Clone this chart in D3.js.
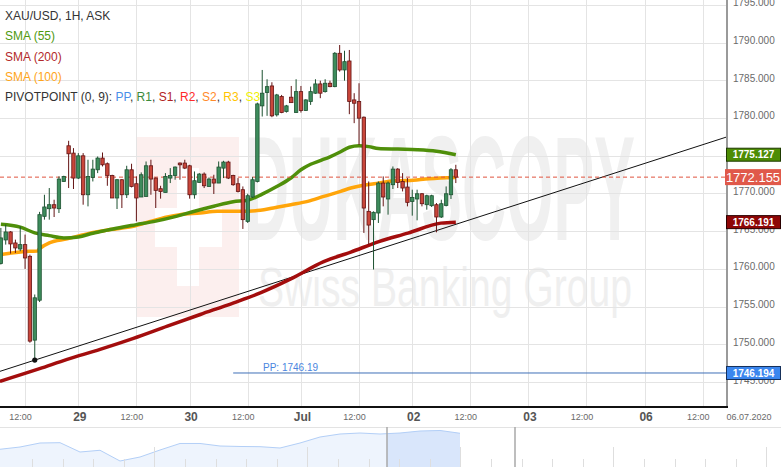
<!DOCTYPE html>
<html><head><meta charset="utf-8">
<script src="https://cdn.jsdelivr.net/npm/d3@7"></script>
<style>body{margin:0;background:#fff;}svg{display:block;font-family:"Liberation Sans",Arial,sans-serif;}</style>
</head><body><svg id="c" width="781" height="467"></svg>
<script>
// ---------- DATA ----------
const firstSlot = -16; // hourly slots, 0 = 29 Jun 00:00
const opens  = [1760.70,1763.83,1764.89,1763.43,1762.63,1763.21,1761.66,1750.55,1755.84,1766.96,1767.97,1768.50,1767.97,1771.58,1776.31,1775.34,1772.03,1774.98,1769.82,1772.11,1773.13,1774.68,1773.93,1772.38,1769.39,1771.81,1769.82,1773.13,1771.28,1769.52,1769.60,1773.66,1772.03,1770.62,1770.13,1772.03,1772.38,1774.02,1774.02,1773.66,1769.82,1771.45,1772.56,1770.92,1771.90,1771.37,1773.35,1774.15,1772.38,1771.28,1770.49,1766.29,1769.52,1771.58,1781.60,1783.36,1784.24,1780.41,1782.83,1780.85,1782.75,1780.71,1783.49,1780.98,1782.17,1783.28,1784.51,1783.49,1784.60,1784.15,1788.57,1786.36,1787.55,1782.39,1782.17,1780.10,1767.62,1766.52,1767.40,1771.37,1769.26,1771.15,1773.22,1771.58,1770.84,1768.94,1769.26,1769.95,1768.50,1768.37,1768.50,1766.87,1768.41,1769.82,1773.13];
const highs  = [1765.42,1765.86,1765.00,1763.87,1765.63,1764.54,1761.88,1756.60,1767.55,1769.82,1770.71,1769.16,1772.25,1772.34,1776.97,1776.00,1775.34,1775.34,1774.46,1774.46,1774.89,1775.42,1774.10,1772.47,1771.90,1771.90,1773.66,1773.93,1772.25,1772.78,1774.23,1774.46,1772.11,1771.01,1772.69,1773.35,1773.57,1774.10,1774.46,1773.79,1772.91,1772.69,1772.78,1772.11,1772.47,1774.23,1774.32,1774.32,1772.47,1772.03,1770.92,1769.95,1772.16,1782.03,1786.36,1785.13,1784.73,1783.19,1783.05,1781.73,1784.24,1785.13,1784.24,1782.48,1784.15,1785.13,1784.94,1785.13,1784.94,1788.74,1789.67,1788.91,1789.01,1783.28,1784.60,1780.19,1771.58,1767.62,1771.58,1772.25,1771.58,1773.57,1773.35,1772.69,1772.03,1770.49,1770.49,1770.05,1769.82,1769.82,1768.72,1769.16,1770.92,1773.35,1773.79];
const lows   = [1760.57,1763.21,1762.02,1762.11,1762.33,1759.99,1750.21,1747.90,1755.60,1766.52,1766.52,1766.87,1767.40,1771.55,1770.71,1770.58,1771.90,1768.50,1768.28,1771.58,1772.69,1773.57,1771.01,1769.39,1767.93,1768.06,1769.39,1770.79,1766.29,1769.52,1769.60,1769.82,1768.06,1769.30,1770.13,1771.37,1771.81,1771.81,1773.22,1769.30,1769.30,1771.45,1770.71,1770.92,1769.92,1771.37,1772.03,1771.90,1771.01,1770.13,1765.29,1766.08,1769.39,1771.45,1780.19,1780.28,1780.10,1780.19,1780.63,1780.71,1782.03,1780.71,1780.71,1780.98,1781.73,1783.19,1782.62,1783.36,1784.07,1784.07,1786.14,1784.94,1780.50,1779.31,1776.44,1764.76,1763.21,1759.91,1766.08,1768.28,1767.18,1770.58,1770.71,1770.26,1768.28,1767.05,1766.43,1768.28,1767.84,1768.20,1764.84,1766.74,1768.28,1769.26,1771.37];
const closes = [1764.10,1764.89,1763.30,1762.77,1763.21,1761.44,1750.42,1756.16,1767.18,1768.20,1768.50,1768.06,1771.90,1772.25,1775.25,1772.03,1774.98,1769.82,1772.25,1773.22,1774.68,1773.79,1772.34,1769.39,1771.81,1769.82,1773.13,1770.92,1769.39,1772.47,1773.66,1771.90,1770.40,1770.26,1772.25,1772.38,1773.49,1773.79,1773.35,1769.82,1771.68,1772.56,1771.01,1771.90,1771.37,1773.49,1774.15,1772.03,1771.15,1770.26,1766.52,1769.69,1771.81,1781.86,1783.28,1784.15,1780.28,1783.05,1780.71,1781.60,1782.03,1783.49,1780.98,1782.39,1783.49,1784.51,1783.28,1784.60,1784.15,1788.57,1786.36,1787.46,1782.17,1781.95,1779.97,1768.06,1765.80,1767.49,1771.37,1769.52,1771.37,1773.22,1771.45,1770.71,1768.81,1769.47,1769.95,1768.63,1769.69,1769.69,1766.87,1768.63,1769.95,1773.13,1772.155];

const sma55Slots  = [-16,-12,-9,-6,-3,0,3,6,9,12,16,20,24,28,32,35,38,41,44,46,48,50,52,54,56,58,60,62,66,70,74,78];
const sma55Values = [1765.92,1765.53,1764.76,1764.40,1764.10,1764.23,1764.72,1765.13,1765.52,1765.86,1766.32,1766.92,1767.64,1768.30,1768.90,1769.10,1769.90,1770.90,1772.07,1773.13,1773.86,1774.35,1774.85,1775.45,1776.11,1776.30,1776.20,1775.95,1775.87,1775.80,1775.60,1775.127];
const sma100Slots  = [-16,-10,-8.5,-8,-6,-2.3,1.8,6.6,11.4,14.9,18.4,21,25.2,28.7,33.5,37.6,40.3,43.9,47.4,50.7,54.2,56.3,58.4,61.1,65.6,68.1,72.5,78];
const sma100Values = [1761.89,1762.33,1762.35,1762.68,1763.44,1763.97,1764.63,1765.20,1765.63,1766.29,1766.88,1767.18,1767.40,1767.62,1767.62,1767.75,1768.07,1768.50,1768.94,1769.60,1770.26,1770.71,1771.01,1771.28,1771.68,1771.70,1771.94,1772.10];
const sma200Slots  = [-16.2,-8,-2.3,4.5,11.4,18.4,25.2,32.1,37.6,43.9,50.7,56.3,62.1,68.1,74.9,78];
const sma200Values = [1745.09,1746.77,1748.00,1749.32,1750.78,1752.40,1753.95,1755.50,1756.82,1758.67,1760.96,1762.22,1763.61,1764.73,1766.06,1766.191];

const trendSlots  = [-9, 78];
const trendPrices = [1747.90, 1765.90];

const pivotPP = 1746.194;
const pivotStartSlot = 32;
const lastPrice = 1772.155;

const yTicks = [1745,1750,1755,1760,1765,1770,1775,1780,1785,1790,1795];
const xTickSlots  = [-11,0,12,23,35,46,58,69,81,93,105,117,129];
const xTickLabels = ["12:00","29","12:00","30","12:00","Jul","12:00","02","12:00","03","12:00","06","12:00"];

const navValues = [1734.3,1740,1750,1750.8,1727.5,1731.8,1705,1715,1732.5,1748.8,1748.8,1742.5,1741.3,1740.8,1737.5,1750,1765,1772.5,1775,1772.5,1775,1780,1781.3,1774.3];
const navWindow = [19.35, 25.75];

// ---------- LAYOUT ----------
const W = 781, H = 467, plotR = 727, plotB = 407;
const svg = d3.select("#c");
const x = d3.scaleLinear().domain([-16.18, 134.03]).range([0, plotR]);
const y = d3.scaleLinear().domain([1745, 1790]).range([382, 42.5]);

svg.append("rect").attr("width", W).attr("height", H).attr("fill", "#fff");
svg.append("defs").append("clipPath").attr("id","pc").append("rect").attr("width",plotR).attr("height",plotB);

// watermark
const wm = svg.append("g");
wm.append("rect").attr("x",137).attr("y",137).attr("width",102).attr("height",180).attr("fill","#fcefee");
wm.append("rect").attr("x",155).attr("y",208).attr("width",67).attr("height",39).attr("fill","#fff");
wm.append("rect").attr("x",177).attr("y",168).attr("width",22).attr("height",118).attr("fill","#fff");
wm.append("text").attr("x",245).attr("y",240).attr("font-size",148).attr("font-weight","bold")
  .attr("textLength",390).attr("lengthAdjust","spacingAndGlyphs").attr("fill","#f0f0f0").text("DUKASCOPY");
wm.append("text").attr("x",258).attr("y",306).attr("font-size",56)
  .attr("textLength",374).attr("lengthAdjust","spacingAndGlyphs").attr("fill","#efefef").text("Swiss Banking Group");

// grid
const grid = svg.append("g").attr("stroke","#e4e4e4").attr("stroke-width",1);
grid.selectAll("line.h").data(yTicks).join("line")
  .attr("x1",0).attr("x2",plotR).attr("y1",d=>Math.round(y(d))+0.5).attr("y2",d=>Math.round(y(d))+0.5);
grid.selectAll("line.v").data(xTickSlots).join("line")
  .attr("y1",0).attr("y2",plotB).attr("x1",d=>Math.round(x(d))+0.5).attr("x2",d=>Math.round(x(d))+0.5);

const plot = svg.append("g").attr("clip-path","url(#pc)");

// trendline
const tSlope = (trendPrices[1]-trendPrices[0])/(trendSlots[1]-trendSlots[0]);
const tAt = s => trendPrices[0] + (s-trendSlots[0])*tSlope;
const xd = x.domain();
plot.append("line").attr("x1",x(xd[0])).attr("y1",y(tAt(xd[0]))).attr("x2",x(xd[1])).attr("y2",y(tAt(xd[1])))
  .attr("stroke","#111").attr("stroke-width",1);

// SMAs
const ln = d3.line().x(d=>x(d[0])).y(d=>y(d[1])).curve(d3.curveMonotoneX);
function sma(slots, vals, color){
  plot.append("path").attr("d", ln(slots.map((s,i)=>[s,vals[i]]))).attr("fill","none")
    .attr("stroke",color).attr("stroke-width",3.5).attr("stroke-linejoin","round");
}
sma(sma200Slots, sma200Values, "#a30d0d");
sma(sma100Slots, sma100Values, "#ffa50a");
sma(sma55Slots, sma55Values, "#4f8f0a");

// pivot line
plot.append("line").attr("x1",x(pivotStartSlot)).attr("x2",plotR).attr("y1",y(pivotPP)).attr("y2",y(pivotPP))
  .attr("stroke","#3f6fb8").attr("stroke-width",1);
svg.append("text").attr("x",263).attr("y",y(pivotPP)-2).attr("font-size",10).attr("fill","#4a86e0").text("PP: "+pivotPP.toFixed(2));

// last price line
plot.append("line").attr("x1",0).attr("x2",plotR).attr("y1",y(lastPrice)).attr("y2",y(lastPrice))
  .attr("stroke","#e0533f").attr("stroke-width",1).attr("stroke-dasharray","4,3");

// candles
const candles = opens.map((o,i)=>({s:firstSlot+i,o,h:highs[i],l:lows[i],c:closes[i]}));
const cg = plot.append("g");
cg.selectAll("line").data(candles).join("line")
  .attr("x1",d=>x(d.s)).attr("x2",d=>x(d.s)).attr("y1",d=>y(d.h)).attr("y2",d=>y(d.l))
  .attr("stroke",d=>d.c>=d.o?"#1d5231":"#641414").attr("stroke-width",1);
cg.selectAll("rect").data(candles).join("rect")
  .attr("x",d=>x(d.s)-1.7).attr("width",3.4)
  .attr("y",d=>y(Math.max(d.o,d.c))).attr("height",d=>Math.max(1,Math.abs(y(d.o)-y(d.c))))
  .attr("fill",d=>d.c>=d.o?"#3d8c5c":"#c9463a").attr("stroke",d=>d.c>=d.o?"#1d5231":"#641414").attr("stroke-width",0.8);

// trend touch dot
svg.append("circle").attr("cx",x(trendSlots[0])).attr("cy",y(trendPrices[0])).attr("r",2.6).attr("fill","#111");

// axes
svg.append("line").attr("x1",plotR).attr("x2",plotR).attr("y1",0).attr("y2",plotB).attr("stroke","#9a9a9a").attr("stroke-width",2);
svg.append("line").attr("x1",0).attr("x2",plotR+1).attr("y1",plotB).attr("y2",plotB).attr("stroke","#111").attr("stroke-width",2);

svg.append("g").selectAll("text").data(yTicks).join("text")
  .attr("x",733).attr("y",d=>y(d)+1.5).attr("font-size",10).attr("fill","#6a6a6a").text(d=>d.toFixed(3));

svg.append("g").selectAll("text").data(xTickSlots).join("text")
  .attr("x",(d,i)=>x(d)+(xTickLabels[i]==="12:00"?-4.5:1.5)).attr("y",(d,i)=>xTickLabels[i]==="12:00"?419.5:420.5)
  .attr("text-anchor","middle")
  .attr("font-size",(d,i)=>xTickLabels[i]==="12:00"?9:12)
  .attr("font-weight",(d,i)=>xTickLabels[i]==="12:00"?"normal":"bold")
  .attr("fill",(d,i)=>xTickLabels[i]==="12:00"?"#6a6a6a":"#555")
  .text((d,i)=>xTickLabels[i]);
svg.append("text").attr("x",749).attr("y",419.5).attr("text-anchor","middle").attr("font-size",9).attr("fill","#6a6a6a").text("06.07.2020");

// navigator
const navX = d3.scaleLinear().domain([0, navValues.length-1]).range([0, 460]);
const navY = d3.scaleLinear().domain([1690, 1790]).range([467, 427]);
const nav = svg.append("g");
nav.append("line").attr("x1",0).attr("x2",W).attr("y1",427.5).attr("y2",427.5).attr("stroke","#e3e3e3");
const navArea = d3.area().x((d,i)=>navX(i)).y0(467).y1(d=>navY(d));
const navLine = d3.line().x((d,i)=>navX(i)).y(d=>navY(d));
nav.append("path").attr("d",navArea(navValues)).attr("fill","#eef4fd");
svg.select("defs").append("clipPath").attr("id","nw").append("rect")
  .attr("x",navX(navWindow[0])).attr("y",427).attr("width",navX(navWindow[1])-navX(navWindow[0])).attr("height",40);
nav.append("path").attr("d",navArea(navValues)).attr("fill","#d9e6fb").attr("clip-path","url(#nw)");
nav.append("path").attr("d",navLine(navValues)).attr("fill","none").attr("stroke","#b3cff7").attr("stroke-width",1);
const nt = d3.range(32, 781, 30.6);
nav.selectAll("line.t").data(nt).join("line")
  .attr("x1",d=>Math.round(d)+0.5).attr("x2",d=>Math.round(d)+0.5)
  .attr("y1",(d,i)=>i%5===4?447:459).attr("y2",467).attr("stroke","#dedede");
[navWindow[0],navWindow[1]].forEach(v=>{
  nav.append("line").attr("x1",navX(v)).attr("x2",navX(v)).attr("y1",427).attr("y2",467).attr("stroke","#a8a8a8").attr("stroke-width",1.5);
});

// legend
const lg = svg.append("g").attr("font-size",12);
lg.append("text").attr("x",5).attr("y",20).attr("fill","#333").text("XAU/USD, 1H, ASK");
lg.append("text").attr("x",5).attr("y",40.3).attr("fill","#4f9a10").text("SMA (55)");
lg.append("text").attr("x",5).attr("y",60.6).attr("fill","#b22a2a").text("SMA (200)");
lg.append("text").attr("x",5).attr("y",81).attr("fill","#ffa51a").text("SMA (100)");
const pv = lg.append("text").attr("x",5).attr("y",101.3).attr("fill","#333");
const pvParts = [["PIVOTPOINT (0, 9): ","#333"],["PP","#4a8fe8"],[", ","#333"],["R1","#3b8a3b"],[", ","#333"],["S1","#b22222"],[", ","#333"],["R2","#ff2a2a"],[", ","#333"],["S2","#ff8a2a"],[", ","#333"],["R3","#ffc400"],[", ","#333"],["S3","#f0f000"]];
pvParts.forEach(p=>pv.append("tspan").attr("fill",p[1]).text(p[0]));

// price badges
function badge(v, bg, border, fs, fw, h){
  const cy = y(v);
  const g = svg.append("g");
  g.append("rect").attr("x",726.5).attr("y",cy-h/2).attr("width",54).attr("height",h)
    .attr("fill",bg).attr("stroke",border).attr("stroke-width",1);
  g.append("text").attr("x",753.5).attr("y",cy+fs*0.36).attr("text-anchor","middle")
    .attr("font-size",fs).attr("font-weight",fw).attr("fill","#fff").text(v.toFixed(3));
}
badge(sma55Values[sma55Values.length-1], "#4d8c05", "#1e3a00", 10, "bold", 13);
badge(sma200Values[sma200Values.length-1], "#8e0606", "#2a0000", 10, "bold", 13);
badge(pivotPP, "#3b86ee", "#16305a", 10, "bold", 13);
(function(){
  const cy = y(lastPrice);
  svg.append("rect").attr("x",725).attr("y",cy-8).attr("width",56).attr("height",16).attr("fill","#e0594a");
  svg.append("text").attr("x",753).attr("y",cy+4.7).attr("text-anchor","middle").attr("font-size",13).attr("fill","#fff").text(lastPrice.toFixed(3));
})();
</script></body></html>
